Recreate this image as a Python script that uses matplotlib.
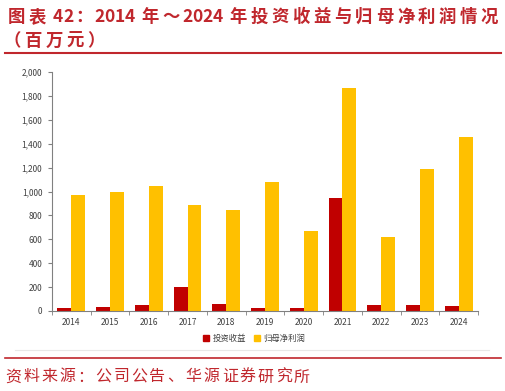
import matplotlib
matplotlib.use("Agg")
import matplotlib.pyplot as plt
import numpy as np
from matplotlib.ticker import FuncFormatter, FixedLocator
from matplotlib.lines import Line2D

plt.rcParams['font.family'] = ['Noto Sans CJK SC', 'DejaVu Sans']

years = ["2014", "2015", "2016", "2017", "2018", "2019", "2020", "2021", "2022", "2023", "2024"]
invest_income = [25, 30, 50, 200, 55, 28, 22, 945, 50, 50, 40]
net_profit = [970, 995, 1045, 887, 845, 1080, 672, 1870, 620, 1185, 1460]
series_names = ["投资收益", "归母净利润"]
yticks = [0, 200, 400, 600, 800, 1000, 1200, 1400, 1600, 1800, 2000]
title_line1 = "图表 42：2014 年～2024 年投资收益与归母净利润情况"
title_line2 = "（百万元）"
source_text = "资料来源：公司公告、华源证券研究所"

W, H = 506, 391
fig = plt.figure(figsize=(W/100, H/100), dpi=100)
renderer = fig.canvas.get_renderer()

red = "#C00000"
title_red = "#C0272D"
yellow = "#FFC000"
gray = "#808080"


def is_wide(ch):
    return ord(ch) >= 0x2E80


def latin_width(ch, **kw):
    if ch == " ":
        return kw["fontsize"] * 100 / 72 * 0.28
    t = fig.text(0, 0, ch, **kw)
    w = t.get_window_extent(renderer).width
    t.remove()
    return w


def spaced_text(s, x0, x1, y, pitch=None, **kw):
    lat = sum(latin_width(c, **kw) for c in s if not is_wide(c))
    nw = sum(1 for c in s if is_wide(c))
    if pitch is None:
        pitch = (x1 - x0 - lat) / nw
    x = x0
    for c in s:
        if is_wide(c):
            fig.text((x + pitch/2)/W, 1-y/H, c, ha='center', va='center', **kw)
            x += pitch
        else:
            w = latin_width(c, **kw)
            if c != " ":
                fig.text(x/W, 1-y/H, c, ha='left', va='center', **kw)
            x += w
    return pitch


ax = fig.add_axes([52/W, 1-311/H, (478-52)/W, (311-72)/H])
x = np.arange(len(years))
bw = 0.36
ax.bar(x - bw/2, invest_income, bw, color=red, label=series_names[0])
ax.bar(x + bw/2, net_profit, bw, color=yellow, label=series_names[1])
ax.set_xlim(-0.5, len(years)-0.5)
ax.set_ylim(0, 2000)
ax.set_yticks(yticks)
ax.yaxis.set_major_formatter(FuncFormatter(lambda v, p: f"{int(v):,}"))
ax.set_xticks(x)
ax.set_xticklabels(years)
ax.xaxis.set_minor_locator(FixedLocator(np.arange(-0.5, len(years), 1)))
ax.tick_params(axis='x', which='major', length=0, labelsize=6, colors="#404040", pad=5)
ax.tick_params(axis='x', which='minor', length=3, color=gray, direction='out')
ax.tick_params(axis='y', length=3, color=gray, labelsize=6, labelcolor="#404040", pad=4)
for s in ['top', 'right']:
    ax.spines[s].set_visible(False)
for s in ['left', 'bottom']:
    ax.spines[s].set_color(gray)
    ax.spines[s].set_linewidth(0.8)

handles = [Line2D([], [], marker='s', linestyle='', color=red, markersize=4),
           Line2D([], [], marker='s', linestyle='', color=yellow, markersize=4)]
fig.legend(handles, series_names, loc='center', bbox_to_anchor=(254/W, 1-338/H), ncol=2,
           frameon=False, fontsize=6, handletextpad=0.4, columnspacing=0.9,
           handlelength=0.8, labelcolor="#404040")

tkw = dict(color=title_red, fontsize=12.5, fontweight='bold')
p = spaced_text(title_line1, 6, 500, 17, **tkw)
spaced_text(title_line2, 2, None, 41, pitch=p, **tkw)
fig.add_artist(Line2D([5/W, 501/W], [1-53/H, 1-53/H], color=title_red, linewidth=1.5))
fig.add_artist(Line2D([15/W, 489/W], [1-350/H, 1-350/H], color="#E8E8E8", linewidth=0.8))
fig.add_artist(Line2D([5/W, 501/W], [1-358/H, 1-358/H], color=title_red, linewidth=1.2))
spaced_text(source_text, 4, 311, 377, color=title_red, fontsize=11.5)

fig.savefig("out.png", dpi=100)
